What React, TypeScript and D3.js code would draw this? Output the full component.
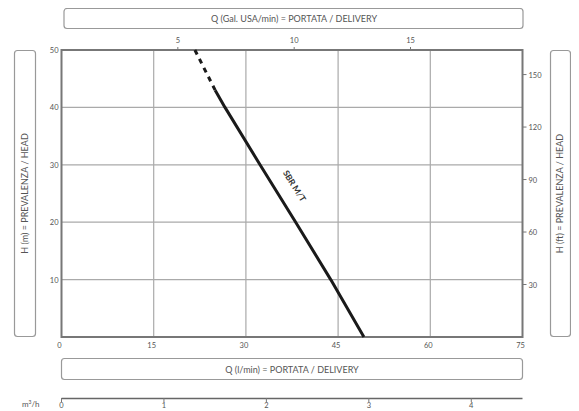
import React from "react";
import * as d3 from "d3";

const qTicks = [0, 15, 30, 45, 60, 75];
const hTicks = [10, 20, 30, 40, 50];
const galTicks = [5, 10, 15];
const ftTicks = [30, 60, 90, 120, 150];
const m3hTicks = [0, 1, 2, 3, 4];

const curveQ = [49.2, 43.8, 38.1, 32.3, 26.6, 25.0];
const curveH = [0, 10, 20, 30, 40, 43];
const dashQ = [25.0, 21.7];
const dashH = [43, 50];
const curveName = "SBR M/T";

const FONT = "Lato, 'Open Sans', sans-serif";
const TXT = "#555";

export default function App() {
  const L = 61.5, R = 522.5, T = 50, B = 337;
  const x = d3.scaleLinear().domain([0, 75]).range([L, R]);
  const y = d3.scaleLinear().domain([0, 50]).range([B, T]);
  const xGal = d3.scaleLinear().domain([0, 75 / 3.78541]).range([L, R]);
  const yFt = d3.scaleLinear().domain([0, 50 / 0.3048]).range([B, T]);
  const xM3 = d3.scaleLinear().domain([0, 4.5]).range([L, R]);

  const line = d3.line<[number, number]>().x((d) => x(d[0])).y((d) => y(d[1]));
  const solid = curveQ.map((q, i) => [q, curveH[i]] as [number, number]);
  const dashed = dashQ.map((q, i) => [q, dashH[i]] as [number, number]);

  const lx1 = x(curveQ[2]), ly1 = y(curveH[2]);
  const lx2 = x(curveQ[3]), ly2 = y(curveH[3]);
  const ang = (Math.atan2(ly1 - ly2, lx1 - lx2) * 180) / Math.PI;
  const mx = (lx1 + lx2) / 2 + 14, my = (ly1 + ly2) / 2 - 6;

  return (
    <svg width={579} height={411} style={{ display: "block", margin: "-8px 0 0 -8px" }}>
      <rect x={0} y={0} width={579} height={411} fill="#fff" />
      <rect x={64} y={8.5} width={459} height={20} rx={3} fill="#fff" stroke="#999" strokeWidth={1.2} />
      <text x={294} y={22} textAnchor="middle" fontFamily={FONT} fontSize={9} fill={TXT}>
        Q (Gal. USA/min) = PORTATA / DELIVERY
      </text>
      <rect x={61.5} y={358.5} width={461} height={21} rx={3} fill="#fff" stroke="#999" strokeWidth={1.2} />
      <text x={292} y={372.5} textAnchor="middle" fontFamily={FONT} fontSize={9} fill={TXT}>
        Q (l/min) = PORTATA / DELIVERY
      </text>
      <rect x={14.5} y={50.5} width={21} height={286} rx={3} fill="#fff" stroke="#999" strokeWidth={1.2} />
      <text transform={`translate(28,${(50 + 337) / 2}) rotate(-90)`} textAnchor="middle" fontFamily={FONT} fontSize={9} fill={TXT}>
        H (m) = PREVALENZA / HEAD
      </text>
      <rect x={550.5} y={50.5} width={20} height={286} rx={3} fill="#fff" stroke="#999" strokeWidth={1.2} />
      <text transform={`translate(563,${(50 + 337) / 2}) rotate(-90)`} textAnchor="middle" fontFamily={FONT} fontSize={9} fill={TXT}>
        H (ft) = PREVALENZA / HEAD
      </text>

      {qTicks.filter((t) => t > 0 && t < 75).map((t) => (
        <line key={"gx" + t} x1={x(t)} x2={x(t)} y1={T} y2={B} stroke="#aaa" strokeWidth={1.2} />
      ))}
      {hTicks.filter((t) => t > 0 && t < 50).map((t) => (
        <line key={"gy" + t} x1={L} x2={R} y1={y(t)} y2={y(t)} stroke="#aaa" strokeWidth={1.2} />
      ))}
      <rect x={L} y={T} width={R - L} height={B - T} fill="none" stroke="#777" strokeWidth={2} />

      {qTicks.map((t) => (
        <text key={"qx" + t} x={x(t) - 2} y={348} textAnchor="middle" fontFamily={FONT} fontSize={7.5} fill={TXT}>
          {t}
        </text>
      ))}
      {hTicks.map((t) => (
        <text key={"hy" + t} x={L - 3} y={y(t) + 3} textAnchor="end" fontFamily={FONT} fontSize={7.5} fill={TXT}>
          {t}
        </text>
      ))}
      {galTicks.map((t) => (
        <g key={"gal" + t}>
          <line x1={xGal(t)} x2={xGal(t)} y1={T - 3} y2={T} stroke="#777" strokeWidth={1} />
          <text x={xGal(t)} y={43} textAnchor="middle" fontFamily={FONT} fontSize={7.5} fill={TXT}>
            {t}
          </text>
        </g>
      ))}
      {ftTicks.map((t) => (
        <g key={"ft" + t}>
          <line x1={R} x2={R + 4} y1={yFt(t)} y2={yFt(t)} stroke="#777" strokeWidth={1} />
          <text x={R + 6} y={yFt(t) + 3} textAnchor="start" fontFamily={FONT} fontSize={7.5} fill={TXT}>
            {t}
          </text>
        </g>
      ))}

      <line x1={L} x2={R} y1={398.5} y2={398.5} stroke="#666" strokeWidth={1.5} />
      {m3hTicks.map((t) => (
        <g key={"m3" + t}>
          <line x1={xM3(t)} x2={xM3(t)} y1={398} y2={402} stroke="#777" strokeWidth={1} />
          <text x={xM3(t)} y={408} textAnchor="middle" fontFamily={FONT} fontSize={7.5} fill={TXT}>
            {t}
          </text>
        </g>
      ))}
      <text x={22} y={407} fontFamily={FONT} fontSize={8} fill={TXT}>
        m<tspan dy={-3} fontSize={5}>3</tspan><tspan dy={3}>/h</tspan>
      </text>

      <path d={line(solid) || ""} fill="none" stroke="#1a1a1a" strokeWidth={3} strokeLinejoin="round" />
      <path d={line(dashed) || ""} fill="none" stroke="#1a1a1a" strokeWidth={3} strokeDasharray="5,5" />
      <text transform={`translate(${mx},${my}) rotate(${ang})`} textAnchor="middle" fontFamily={FONT} fontWeight="bold" fontSize={8.5} fill="#333">
        {curveName}
      </text>
    </svg>
  );
}
